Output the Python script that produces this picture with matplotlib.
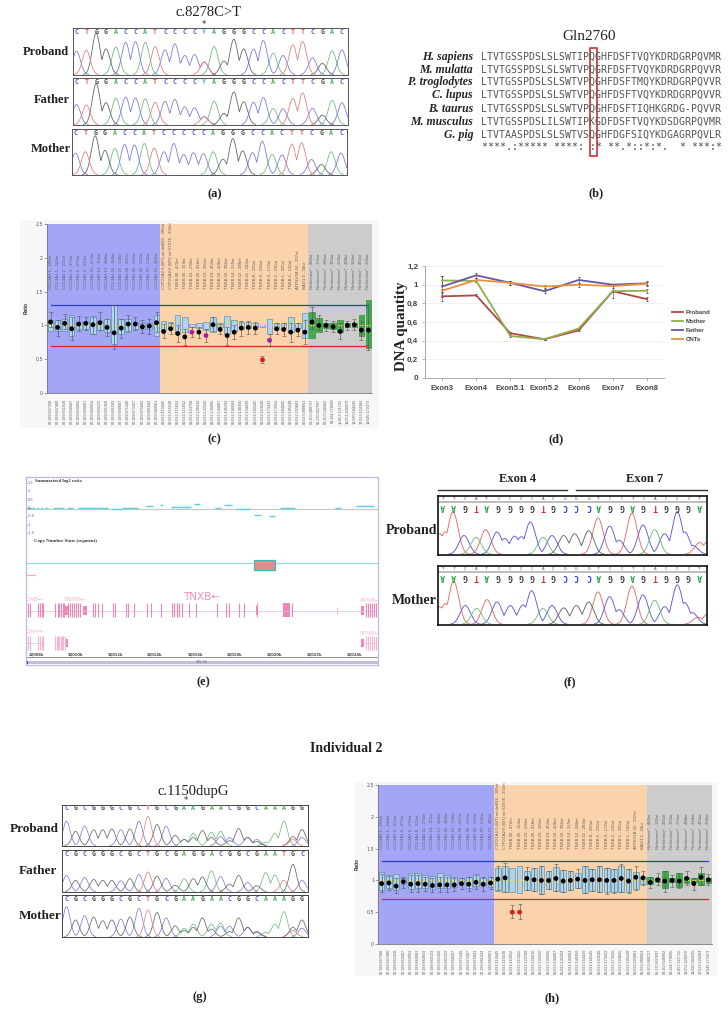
import numpy as np
import matplotlib
matplotlib.use("Agg")
import matplotlib.pyplot as plt
from matplotlib.patches import Rectangle
from matplotlib.lines import Line2D

W, H = 728, 1009
SERIF = "Liberation Serif"
SANS = "Liberation Sans"
BASE_COLORS = {"A": "#4fae60", "C": "#5a5ad8", "G": "#444444", "T": "#e0605f", "Y": "#58a8e0", "-": "#888888"}
TRACE_COLORS = {"A": "#6fbf7f", "C": "#7d7de0", "G": "#666666", "T": "#e68080"}

# ---------- (a) chromatograms ----------
a_letters = [list("CTGGACCATCCCCYAGGGCCACTTCGAC"),
             list("CTGGACCATCCCCYAGGGCCACTTCGAC"),
             list("CTGGACCATCCCCCAGGGCCACTTCGAC")]
a_heights = [[.50, .52, .89, .55, .59, .69, .71, .69, .60, .53, .66, .41, .43, .27, .60, .29, .76, .55, .55, .73, .46, .41, .64, .71, .36, .24, .51, .53],
             [.43, .42, .88, .47, .56, .59, .57, .55, .48, .50, .54, .38, .36, .17, .50, .24, .70, .49, .48, .58, .34, .34, .56, .68, .35, .20, .52, .47],
             [.47, .50, .85, .53, .57, .66, .65, .68, .58, .50, .68, .44, .48, .46, .50, .34, .79, .52, .48, .73, .44, .43, .67, .70, .33, .22, .50, .47]]
a_second = {13: ("T", .27)}
a_second_f = {13: ("T", .17)}

# ---------- (b) alignment ----------
b_species = ["H. sapiens", "M. mulatta", "P. troglodytes", "C. lupus", "B. taurus", "M. musculus", "G. pig"]
b_seqs = ["LTVTGSSPDSLSLSWTIPQGHFDSFTVQYKDRDGRPQVMR",
          "LTVTGSSPDSLSLSWTVPQGRFDSFTVQYKDRDGRPQVVR",
          "LTVTGSSPDSLSLSWTVPQGHFDSFTMQYKDRDGRPQVVR",
          "LTVTGSSPDSLSLSWTVPQGHFDSFTVQYKDRDGRPQVVR",
          "LTVTGSSPDSLSLSWTVPQGHFDSFTIQHKGRDG-PQVVR",
          "LTVTGSSPDSLILSWTIPKGDFDSFTVQYKDSDGRPQVMR",
          "LTVTAASPDSLSLSWTVSQGHFDGFSIQYKDGAGRPQVLR"]
b_cons = "****.:***** ****: :* **.*::*:*.  * ***:*"

# ---------- (c)/(h) ratio charts ----------
top_labels = ["COL3A1:1 - 166nt", "COL3A1:1 - 144nt", "COL3A1:2 - 221nt", "COL3A1:4 - 372nt", "COL3A1:6 - 178nt",
              "COL3A1:8 - 313nt", "COL3A1:11 - 274nt", "COL3A1:14 - 151nt", "COL3A1:17 - 460nt", "COL3A1:20 - 184nt",
              "COL3A1:23 - 136nt", "COL3A1:28 - 427nt", "COL3A1:36 - 257nt", "COL3A1:43 - 252nt", "COL3A1:47 - 226nt",
              "COL3A1:51 - 481nt", "CYP21A2:3 (WT) wt:delINS - 185nt", "CYP21A2:6 (WT) wt:V237E - 232nt",
              "TNXB:36 - 472nt", "TNXB:35 - 154nt", "TNXB:31 - 293nt", "TNXB:26 - 418nt", "TNXB:23 - 381nt",
              "TNXB:19 - 450nt", "TNXB:16 - 436nt", "TNXB:15 - 382nt", "TNXB:14 - 315nt", "TNXB:12 - 286nt",
              "TNXB:11 - 283nt", "TNXB:8 - 226nt", "TNXB:6 - 156nt", "TNXB:3 - 172nt", "TNXB:2 - 215nt",
              "TNXB:1 - 325nt", "TNXB:1 - 142nt", "ATP6V1B:16 - 337nt", "BAG1:5 - 34nt",
              "Reference* - 480nt", "Reference* - 135nt", "Reference* - 381nt", "Reference* - 150nt",
              "Reference* - 333nt", "Reference* - 488nt", "Reference* - 344nt", "Reference* - 463nt", "Reference* - 336nt"]
bottom_labels = ["02:189:847398", "02:189:847480", "02:189:851918", "02:189:850687", "02:189:850093", "02:189:860081",
                 "02:189:860934", "02:189:860133", "02:189:861350", "02:189:861593", "02:189:868607", "02:189:871246",
                 "02:189:873307", "02:189:875843", "02:189:881643", "02:189:884961", "06:032:114645", "06:032:115538",
                 "06:032:115652", "06:032:115652", "06:032:123708", "06:032:128410", "06:032:132550", "06:032:136695",
                 "06:032:144087", "06:032:145394", "06:032:146084", "06:032:148350", "06:032:154439", "06:032:160345",
                 "06:032:163048", "06:032:173432", "06:032:173556", "06:032:184845", "06:032:185248", "06:032:203881",
                 "06:033:088853", "01:100:380727", "05:170:837097", "08:100:546962", "09:124:779095", "11:057:121722",
                 "13:051:420970", "14:080:584245", "17:023:124384", "19:045:172473"]
region_counts = [16, 21, 9]

c_ratio = [1.05, .97, 1.03, .95, 1.02, 1.03, 1.01, 1.04, .97, .89, .96, 1.02, 1.02, .98, .99, 1.04,
           .91, .95, .88, .83, .90, .90, .85, 1.01, .94, .85, .90, .96, .97, .96, .49, .78, .95, .94, .90, .93, .90,
           1.05, 1.0, 1.0, .98, .91, 1.0, 1.01, .93, .93]
c_box_lo = [.92, .92, .92, .85, .95, .95, .88, .93, .90, .73, .88, .90, .95, .95, .95, .85,
            .93, .95, .88, .90, .97, .96, .93, .90, .97, .88, .92, .95, .96, .97, .98, .87, .95, .96, .90, .96, .82,
            .82, .90, .96, .95, .90, .97, .97, .85, .67]
c_box_hi = [1.08, 1.08, 1.10, 1.15, 1.05, 1.05, 1.14, 1.07, 1.10, 1.30, 1.10, 1.10, 1.05, 1.03, 1.03, 1.15,
            1.06, 1.05, 1.15, 1.12, 1.02, 1.03, 1.05, 1.12, 1.03, 1.14, 1.08, 1.05, 1.05, 1.03, 1.01, 1.10, 1.03, 1.03, 1.12, 1.03, 1.18,
            1.20, 1.11, 1.04, 1.03, 1.08, 1.03, 1.03, 1.15, 1.37]
c_wh_lo = [.97, .85, .95, .78, .92, .93, .88, .93, .84, .65, .82, .92, .93, .89, .88, .90,
           .81, .87, .75, .71, .83, .82, .76, .92, .87, .71, .80, .85, .88, .87, .44, .69, .87, .85, .76, .84, .72,
           .95, .93, .92, .90, .80, .93, .93, .78, .63]
c_wh_hi = [1.20, 1.08, 1.17, 1.12, 1.14, 1.12, 1.13, 1.20, 1.10, 1.30, 1.10, 1.15, 1.12, 1.08, 1.10, 1.20,
           1.02, 1.04, 1.01, .95, .97, .97, .95, 1.13, 1.02, .98, 1.0, 1.06, 1.06, 1.05, .54, .87, 1.03, 1.03, 1.03, 1.03, 1.08,
           1.27, 1.16, 1.08, 1.07, 1.03, 1.07, 1.10, 1.07, 1.27]
c_dot_colors = {20: "#a020a8", 22: "#a020a8", 30: "#d81c1c", 31: "#a020a8"}

h_ratio = [.95, .96, .91, .98, .94, .95, .94, .92, .93, .93, .93, .95, .94, .97, .94, .96,
           1.02, 1.04, .50, .50, 1.03, 1.01, 1.0, 1.0, 1.03, .99, 1.0, 1.02, 1.0, 1.01, 1.01, 1.0, 1.0, 1.03, .99, 1.05, 1.04,
           .97, 1.01, .99, 1.0, .99, 1.03, .95, 1.05, 1.01]
h_box_lo = [.85, .88, .85, .95, .87, .88, .88, .87, .88, .88, .89, .95, .88, .91, .92, .90,
            .84, .82, .81, .80, .85, .83, .79, .87, .83, .82, .85, .88, .80, .84, .81, .81, .82, .82, .81, .87, .95,
            .95, .97, .88, .97, .90, .96, .97, .93, .96]
h_box_hi = [1.13, 1.09, 1.10, 1.04, 1.11, 1.12, 1.08, 1.07, 1.11, 1.08, 1.06, 1.03, 1.06, 1.10, 1.04, 1.06,
            1.20, 1.22, 1.20, 1.22, 1.15, 1.20, 1.23, 1.14, 1.21, 1.17, 1.15, 1.12, 1.22, 1.18, 1.22, 1.20, 1.18, 1.22, 1.18, 1.13, 1.05,
            1.05, 1.03, 1.15, 1.03, 1.12, 1.05, 1.03, 1.11, 1.03]
h_wh_lo = [.81, .85, .80, .88, .81, .81, .84, .82, .81, .82, .83, .87, .84, .86, .83, .86,
           .85, .82, .41, .40, .85, .83, .79, .87, .83, .82, .85, .88, .80, .84, .81, .79, .80, .82, .80, .85, .92,
           .88, .93, .82, .90, .88, .93, .85, .92, .93]
h_wh_hi = [1.10, 1.07, 1.03, 1.06, 1.08, 1.09, 1.05, 1.03, 1.05, 1.05, 1.03, 1.04, 1.05, 1.08, 1.05, 1.06,
           1.22, 1.27, .62, .63, 1.21, 1.20, 1.23, 1.14, 1.26, 1.17, 1.15, 1.18, 1.22, 1.18, 1.22, 1.20, 1.18, 1.26, 1.18, 1.23, 1.14,
           1.05, 1.11, 1.15, 1.09, 1.12, 1.14, 1.03, 1.21, 1.10]
h_dot_colors = {18: "#d81c1c", 19: "#d81c1c"}
upper_limit = 1.30
lower_limit = 0.70

# ---------- (d) DNA quantity ----------
d_exons = ["Exon3", "Exon4", "Exon5.1", "Exon5.2", "Exon6", "Exon7", "Exon8"]
d_proband = [.875, .885, .48, .415, .51, .93, .845]
d_mother = [1.045, 1.04, .45, .415, .53, .93, .935]
d_father = [.98, 1.10, 1.02, .93, 1.05, 1.0, 1.015]
d_cnts = [.935, 1.05, 1.02, .98, 1.0, .985, 1.01]
d_err_proband = [.05, .01, .01, .005, .01, .01, .02]
d_err_mother = [.05, .01, .01, .005, .01, .07, .02]
d_err_father = [.11, .03, .02, .02, .03, .01, .02]
d_err_cnts = [.02, .02, .02, .02, .02, .02, .02]
d_ticks = [0, .2, .4, .6, .8, 1, 1.2]
d_ticklabels = ["0", "0,2", "0,4", "0,6", "0,8", "1", "1,2"]

# ---------- (e) genome browser ----------
e_ticks = [50, 168, 288, 405, 527, 645, 765, 885, 1005]
e_ticklabels = ["32008k", "32010k", "32012k", "32014k", "32016k", "32018k", "32020k", "32022k", "32024k"]
e_seg_start = [35, 52, 65, 78, 90, 115, 155, 190, 290, 322, 392, 435, 467, 537, 600, 628, 665, 717, 764, 795, 960, 1025]
e_seg_end = [50, 60, 72, 85, 98, 148, 175, 280, 320, 370, 415, 445, 528, 556, 618, 653, 705, 738, 782, 840, 978, 1077]
e_seg_val = [0, 0, 0, 0, 0, 0, 0, 0, -.05, .02, .12, .16, .08, .22, .03, .16, -.07, -.42, -.47, 0, 0, .1]
e_log_ticks = [1.5, 1, .5, 0, -.5, -1, -1.5]
e_log_labels = ["1.5", "1", "0.5", "0", "-0.5", "-1", "-1.5"]
e_exons_top = [40, 44, 70, 74, 80, 84, 121, 128, 133, 138, 143, 148, 160, 165, 170, 176, 182, 188, 195,
               233, 240, 250, 260, 293, 300, 332, 340, 357, 397, 407, 437, 472, 478, 485, 492, 500, 522, 543,
               607, 635, 644, 672, 688, 727, 832, 1055, 1060, 1066, 1072, 1078, 1084]
e_blocks_top = [(151, 9), (203, 13), (805, 20), (724, 7), (1040, 8)]
e_exons_bot = [40, 44, 70, 74, 80, 84, 121, 125, 129, 133, 137, 141, 145, 149, 1055, 1060, 1066, 1072, 1078, 1084]
e_blocks_bot = [(151, 9), (1040, 8)]

# ---------- (f) exon traces ----------
f_upper = list("TTCATCCCCACGGGTCCTCACCCT")
f_lower = list("AAGTAGGGGTGCCCAGGAGTGGGA")
f_positions = [190, 223, 257, 290, 320, 357, 392, 425, 458, 492, 520, 556, 590, 628, 657, 692, 727, 760, 792, 827, 860, 893, 927, 960]
f_peaks_proband = {"T": [(180, .35), (197, .38), (220, .72), (318, .42), (655, .62), (757, .70), (960, .2), (985, .22)],
                   "C": [(253, .32), (352, .38), (375, .27), (405, .31), (425, .3), (452, .55), (517, .32), (690, .48), (718, .24), (790, .5), (855, .35), (893, .72), (915, .38), (940, .15)],
                   "A": [(289, .29), (490, .29), (825, .42)],
                   "G": [(552, .32), (585, .35), (627, .40)]}
f_peaks_mother = {"T": [(180, .3), (197, .35), (222, .73), (322, .42), (655, .55), (757, .65), (955, .12), (985, .18)],
                  "C": [(257, .32), (352, .38), (392, .32), (430, .33), (456, .57), (517, .32), (690, .47), (718, .25), (790, .5), (855, .3), (893, .67), (915, .37), (938, .2)],
                  "A": [(291, .27), (490, .27), (825, .41)],
                  "G": [(552, .28), (590, .32), (627, .38)]}

# ---------- (g) chromatograms ----------
g_letters = [list("CGCGGGCGCTGCGAAGAACGGCAAAGG"), list("CGCGGGCGCTGCGAGGACGGCGAATGC"), list("CGCGGGCGCTGCGAAGAACGGCAAAGG")]
g_heights = [[.60, .35, .48, .39, .39, .41, .39, .41, .60, .72, .52, .48, .25, .15, .30, .37, .33, .35, .20, .42, .20, .15, .08, .30, .60, .22, .40],
             [.39, .27, .34, .29, .27, .27, .26, .31, .41, .47, .37, .32, .15, .31, .31, .35, .50, .36, .18, .39, .22, .14, .46, .40, .27, .66, .27],
             [.72, .40, .50, .47, .38, .40, .42, .47, .68, .64, .58, .45, .26, .20, .30, .45, .30, .33, .25, .45, .22, .13, .10, .30, .60, .22, .40]]
g_second_p = {13: ("G", .15), 14: ("G", .20), 16: ("G", .20), 17: ("C", .22), 18: ("G", .12), 20: ("C", .20), 21: ("G", .10), 25: ("T", .15), 26: ("C", .20)}
g_second_m = {13: ("G", .15), 14: ("G", .22), 16: ("G", .18), 17: ("C", .25), 18: ("G", .12), 20: ("C", .22), 21: ("G", .10), 25: ("T", .15), 26: ("C", .20)}


fig = plt.figure(figsize=(W / 100, H / 100), dpi=100, facecolor="white")


def ax_px(x0, y0, x1, y1, **kw):
    return fig.add_axes([x0 / W, 1 - y1 / H, (x1 - x0) / W, (y1 - y0) / H], **kw)


def ftext(x, y, s, **kw):
    kw.setdefault("ha", "center")
    kw.setdefault("va", "center")
    fig.text(x / W, 1 - y / H, s, **kw)


def serif(x, y, s, size=9, **kw):
    kw.setdefault("fontweight", "bold")
    ftext(x, y, s, family=SERIF, fontsize=size, color="#222222", **kw)


def chromatogram(box, letters, heights, second, first, last, sigma=.4, lw=.6, edge="#555555"):
    ax = ax_px(*box)
    positions = np.linspace(first, last, len(letters))
    step = positions[1] - positions[0]
    xs = np.linspace(box[0], box[2], 900)
    channels = {b: [] for b in "ACGT"}
    for i, (b, h) in enumerate(zip(letters, heights)):
        base = {"Y": "C"}.get(b, b)
        channels[base].append((positions[i], h))
        if i in second:
            channels[second[i][0]].append((positions[i], second[i][1]))
    for b, peaks in channels.items():
        y = np.zeros_like(xs)
        for p, h in peaks:
            y = np.maximum(y, h * np.exp(-0.5 * ((xs - p) / (sigma * step)) ** 2))
        y[y < .004] = np.nan
        ax.plot(xs, y, color=TRACE_COLORS[b], lw=lw)
    for p, b in zip(positions, letters):
        ax.text(p, .915, b, color=BASE_COLORS[b], fontsize=4.8, family="DejaVu Sans Mono", fontweight="bold", ha="center", va="center")
    ax.set_xlim(box[0], box[2])
    ax.set_ylim(-.01, 1.0)
    ax.set_xticks([])
    ax.set_yticks([])
    for s in ax.spines.values():
        s.set_color(edge)
        s.set_linewidth(.7)


# (a)
a_boxes = [(73, 28, 348, 75), (73, 78, 348, 125), (72, 129, 347, 175)]
a_second_all = [a_second, a_second_f, {}]
for bx, l, h, s in zip(a_boxes, a_letters, a_heights, a_second_all):
    chromatogram(bx, l, h, s, bx[0] + 3.5, bx[2] - 6)
serif(209, 12, "c.8278C>T", 10.5, fontweight="normal")
ftext(204, 24, "*", fontsize=6, color="#222222")
serif(69, 52, "Proband", 9, ha="right")
serif(70, 100, "Father", 9, ha="right")
serif(71, 149, "Mother", 9, ha="right")
serif(215, 194, "(a)", 9)

# (b)
b_ax = ax_px(380, 40, 720, 160)
b_ax.axis("off")
b_ax.set_xlim(380, 720)
b_ax.set_ylim(160, 40)
row_ys = [57, 70, 82, 95, 109, 122, 135]
for yy, sp, seq in zip(row_ys, b_species, b_seqs):
    b_ax.text(473, yy, sp, family=SERIF, fontstyle="italic", fontweight="bold", fontsize=8.5, ha="right", va="center", color="#222222")
    b_ax.text(481.5, yy, seq, family="DejaVu Sans Mono", fontsize=7.1, ha="left", va="center", color="#555555")
b_ax.text(481.5, 147, b_cons, family="DejaVu Sans Mono", fontsize=7.1, ha="left", va="center", color="#444444")
b_ax.add_patch(Rectangle((589.5, 48), 7.5, 107.5, fill=False, ec="#cc1f1f", lw=1.1))
serif(589, 37, "Gln2760", 11, fontweight="normal")
serif(596, 193, "(b)", 9)


def ratio_chart(box, bg, ratio, blo, bhi, wlo, whi, dot_colors, lab_base, tick_x):
    ax_bg = ax_px(*bg)
    ax_bg.set_facecolor("#f7f7f7")
    ax_bg.set_xticks([])
    ax_bg.set_yticks([])
    for s in ax_bg.spines.values():
        s.set_visible(False)
    ax = ax_px(*box)
    ax.patch.set_alpha(0)
    n = len(ratio)
    ax.set_xlim(-.5, n - .5)
    ax.set_ylim(0, 2.5)
    edges = np.cumsum([0] + region_counts) - .5
    for x0, x1, c in zip(edges[:-1], edges[1:], ["#a3a6f7", "#fad2ac", "#cccccc"]):
        ax.axvspan(x0, x1, color=c, lw=0)
    x = np.arange(n)
    ref = x >= edges[2]
    ax.bar(x[~ref], np.array(bhi)[~ref] - np.array(blo)[~ref], bottom=np.array(blo)[~ref], width=.78,
           color="#a9d6ee", edgecolor="#5a7f90", lw=.4, zorder=2)
    ax.bar(x[ref], np.array(bhi)[ref] - np.array(blo)[ref], bottom=np.array(blo)[ref], width=.78,
           color="#3dae4a", edgecolor="#2c7a35", lw=.4, zorder=2)
    ax.scatter(x, np.ones(n), marker="_", s=6, color="#f0e040", lw=.7, zorder=3)
    ax.errorbar(x, ratio, yerr=[np.maximum(np.array(ratio) - wlo, 0), np.maximum(np.array(whi) - ratio, 0)],
                fmt="none", ecolor="#555555", elinewidth=.45, capsize=1.4, capthick=.4, zorder=4)
    colors = [dot_colors.get(i, "black") for i in range(n)]
    ax.scatter(x, ratio, s=12, c=colors, zorder=5, lw=0)
    ax.plot(x, np.full(n, upper_limit), color="#2a3fc0", lw=.9, zorder=3)
    ax.plot(x, np.full(n, lower_limit), color="#d02a30", lw=.9, zorder=3)
    for xi, t in zip(x, top_labels):
        ax.text(xi, lab_base, t, rotation=90, fontsize=3.05, color="#606060", ha="center", va="bottom", family=SANS, zorder=6)
    for xi, t in zip(x, bottom_labels):
        ax.text(xi, -.08, t, rotation=90, fontsize=2.7, color="#606060", ha="center", va="top", family=SANS, clip_on=False)
    ax.set_xticks([])
    ax.set_yticks([0, .5, 1, 1.5, 2, 2.5], ["0", "0.5", "1", "1.5", "2", "2.5"], fontsize=3.4, color="#555555")
    ax.tick_params(axis="y", length=2, width=.5, pad=.8, color="#777777")
    for k in ("top", "right"):
        ax.spines[k].set_visible(False)
    ax.spines["left"].set_linewidth(.6)
    ax.spines["left"].set_color("#777777")
    ax.spines["bottom"].set_linewidth(.6)
    ax.spines["bottom"].set_color("#777777")
    ftext(tick_x, (box[1] + box[3]) / 2, "Ratio", rotation=90, fontsize=3.4, fontweight="bold", family=SANS, color="#333333")


# (c)
ratio_chart((47, 224, 372, 393), (20, 220, 378, 428), c_ratio, c_box_lo, c_box_hi, c_wh_lo, c_wh_hi, c_dot_colors, 1.54, 26)
serif(214, 439, "(c)", 9)

# (d)
d_ax = ax_px(425, 266, 664, 378)
d_x = np.arange(len(d_exons))
d_series = [("Proband", d_proband, d_err_proband, "#b5454b"), ("Mother", d_mother, d_err_mother, "#8db04a"),
            ("Father", d_father, d_err_father, "#6b55a0"), ("CNTs", d_cnts, d_err_cnts, "#e8923c")]
for name, vals, err, col in d_series:
    d_ax.errorbar(d_x, vals, yerr=err, color=col, lw=1.3, ecolor="#444444", elinewidth=.4, capsize=1, capthick=.6, label=name, zorder=3)
d_ax.set_xlim(-.5, 6.5)
d_ax.set_ylim(0, 1.2)
d_ax.set_yticks(d_ticks, d_ticklabels, fontsize=5.8, fontweight="bold", color="#444444", family=SANS)
d_ax.set_xticks(d_x, d_exons, fontsize=5.5, fontweight="bold", color="#444444", family=SANS)
d_ax.tick_params(length=2, width=.5, color="#999999", pad=3)
d_ax.grid(axis="y", color="#eeeeee", lw=.6)
d_ax.set_axisbelow(True)
for k in ("top", "right"):
    d_ax.spines[k].set_visible(False)
for k in ("left", "bottom"):
    d_ax.spines[k].set_color("#aaaaaa")
    d_ax.spines[k].set_linewidth(.7)
hs = [Line2D([], [], color=s[3], lw=1.3) for s in d_series]
fig.legend(hs, [s[0] for s in d_series], loc="upper left", bbox_to_anchor=(672 / W, 1 - 310 / H), frameon=False,
           prop={"family": SANS, "weight": "bold", "size": 4.4}, labelcolor="#444444", handlelength=1.8,
           handletextpad=.45, labelspacing=.62, borderpad=0, borderaxespad=0)
ftext(401, 326, "DNA quantity", rotation=90, family=SERIF, fontweight="bold", fontsize=10.8, color="#222222")
serif(556, 439, "(d)", 9)

# (e)
e_ax = ax_px(25.7, 477, 378, 665)
e_ax.set_xlim(32, 1090)
e_ax.set_ylim(585, 22)
e_ax.set_xticks([])
e_ax.set_yticks([])
for s in e_ax.spines.values():
    s.set_color("#b8b8ea")
    s.set_linewidth(.9)


def ly(v):
    return 115 - 50 * np.asarray(v)


e_ax.plot([32, 1090], [117, 117], color="#c8c8c8", lw=.9, zorder=1)
e_ax.hlines(ly(e_seg_val), e_seg_start, e_seg_end, color="#58cfe2", lw=1.0, zorder=2)
for v, t in zip(e_log_ticks, e_log_labels):
    e_ax.plot([32, 36], [ly(v), ly(v)], color="#777777", lw=.4)
    e_ax.text(37, ly(v), t, fontsize=2.6, color="#666666", va="center", ha="left")
e_ax.text(59, 34, "Summarized log2 ratio", family=SERIF, fontweight="bold", fontsize=3.4, color="#333333", va="center")
e_ax.text(57, 213, "Copy Number State (segment)", family=SERIF, fontweight="bold", fontsize=3.5, color="#333333", va="center")
e_ax.plot([32, 1090], [280, 280], color="#8fdde8", lw=.8)
e_ax.add_patch(Rectangle((717, 270), 64, 31, fc="#e08d8e", ec="#3fb5bb", lw=.9, zorder=3))
e_ax.plot([37, 60], [314, 314], color="#f2a9c8", lw=.8)
PINK = "#ef86b5"
PINK_L = "#f6b6d3"
e_ax.plot([35, 1085], [422, 422], color=PINK_L, lw=.5)
e_ax.vlines(e_exons_top, 400, 442, color=PINK, lw=.8)
for s, w in e_blocks_top:
    tall = w > 8 and s > 300
    e_ax.add_patch(Rectangle((s, 400 if tall else 408), w, 42 if tall else 26, fc=PINK, lw=0))
e_ax.vlines(967, 410, 432, color=PINK_L, lw=.7)
for sx, ex in [(35, 86), (120, 160), (1040, 1086)]:
    e_ax.plot([sx, ex], [520, 520], color=PINK_L, lw=.5)
e_ax.vlines(e_exons_bot, 498, 540, color=PINK_L, lw=.8)
for s, w in e_blocks_bot:
    e_ax.add_patch(Rectangle((s, 508), w, 24, fc=PINK, lw=0))
e_ax.text(58, 388, "C4B\u2190", fontsize=4.5, color=PINK_L, ha="center", va="center", family="DejaVu Sans")
e_ax.text(182, 388, "TNXB\u2190", fontsize=4.5, color=PINK_L, ha="center", va="center", family="DejaVu Sans")
e_ax.text(560, 381, "TNXB\u2190", fontsize=7.5, color="#f08dba", ha="center", va="center", family="DejaVu Sans")
e_ax.text(1065, 391, "ATP6B\u2190", fontsize=3.6, color=PINK_L, ha="center", va="center", family="DejaVu Sans")
e_ax.text(58, 485, "C4A\u2192", fontsize=4.5, color=PINK_L, ha="center", va="center", family="DejaVu Sans")
e_ax.text(1065, 490, "ATP6B\u2190", fontsize=3.6, color=PINK_L, ha="center", va="center", family="DejaVu Sans")
e_ax.plot([32, 1090], [562, 562], color="#666666", lw=.5)
e_ax.vlines(e_ticks, 558, 562, color="#666666", lw=.4)
for xt, t in zip(e_ticks, e_ticklabels):
    e_ax.text(xt + 15, 555, t, fontsize=2.7, fontweight="bold", color="#444444", ha="center", va="center")
e_ax.add_patch(Rectangle((32, 572), 1058, 11, fc="#c0c0d8", lw=0))
e_ax.add_patch(Rectangle((32, 574), 6, 9, fc="#2030d0", lw=0))
e_ax.text(561, 576, "225.32", fontsize=2.4, color="#555555", ha="center", va="center")
serif(203, 682, "(e)", 9)

# (f)
f_boxes = [(438, 496, 707, 555), (438, 566, 707, 625)]
f_peaks = [f_peaks_proband, f_peaks_mother]
for bx, peaks in zip(f_boxes, f_peaks):
    ax = ax_px(*bx)
    ax.set_xlim(175, 982)
    ax.set_ylim(0, 1)
    xs = np.linspace(175, 982, 1200)
    for b, pk in peaks.items():
        y = np.zeros_like(xs)
        for p, h in pk:
            y = np.maximum(y, h * np.exp(-0.5 * ((xs - p) / 15.5) ** 2))
        y[y < .004] = np.nan
        ax.plot(xs, y + .01, color={"A": "#6fbf7f", "C": "#5a5ae0", "G": "#666666", "T": "#e66a6a"}[b], lw=.65)
    ax.axhline(.90, color="#aaaaaa", lw=1.1)
    for p, u, lo in zip(f_positions, f_upper, f_lower):
        ax.text(p, .955, u, fontsize=3.2, color="#555555", ha="center", va="center", family="DejaVu Sans Mono")
        ax.text(p, .815, lo, fontsize=5.6, rotation=180, color={"A": "#1f9f3a", "C": "#1c2fe0", "G": "#333333", "T": "#e01f2a"}[lo],
                ha="center", va="center", family="DejaVu Sans Mono", fontweight="bold")
    ax.set_xticks([])
    ax.set_yticks([])
    for s in ax.spines.values():
        s.set_linewidth(1.2)
        s.set_color("#111111")
serif(437, 530, "Proband", 10, ha="right")
serif(437, 601, "Mother", 10, ha="right")
serif(518, 479, "Exon 4", 9)
serif(645, 479, "Exon 7", 9)
fig.add_artist(Line2D([438 / W, 567 / W], [1 - 490 / H] * 2, color="#333333", lw=1))
fig.add_artist(Line2D([576 / W, 707 / W], [1 - 490 / H] * 2, color="#333333", lw=1))
serif(570, 682, "(f)", 9)

# Individual 2
serif(346, 748, "Individual 2", 10)

# (g)
g_boxes = [(62, 805, 308, 846), (62, 850, 308, 892), (62, 895, 308, 937)]
g_second_all = [g_second_p, {}, g_second_m]
for bx, l, h, s in zip(g_boxes, g_letters, g_heights, g_second_all):
    chromatogram(bx, l, h, s, bx[0] + 4.5, bx[2] - 6, sigma=.4, lw=.55, edge="#444444")
serif(193, 791, "c.1150dupG", 10.5, fontweight="normal")
ftext(186, 800, "*", fontsize=6, color="#222222")
serif(59, 829, "Proband", 9.5, ha="right")
serif(57, 871, "Father", 9.5, ha="right")
serif(61, 916, "Mother", 9.5, ha="right")
serif(200, 997, "(g)", 9)

# (h)
ratio_chart((378, 785, 712, 944), (355, 782, 718, 976), h_ratio, h_box_lo, h_box_hi, h_wh_lo, h_wh_hi, h_dot_colors, 1.49, 357)
serif(552, 998, "(h)", 9)

fig.savefig("out.png", dpi=100, facecolor="white")
